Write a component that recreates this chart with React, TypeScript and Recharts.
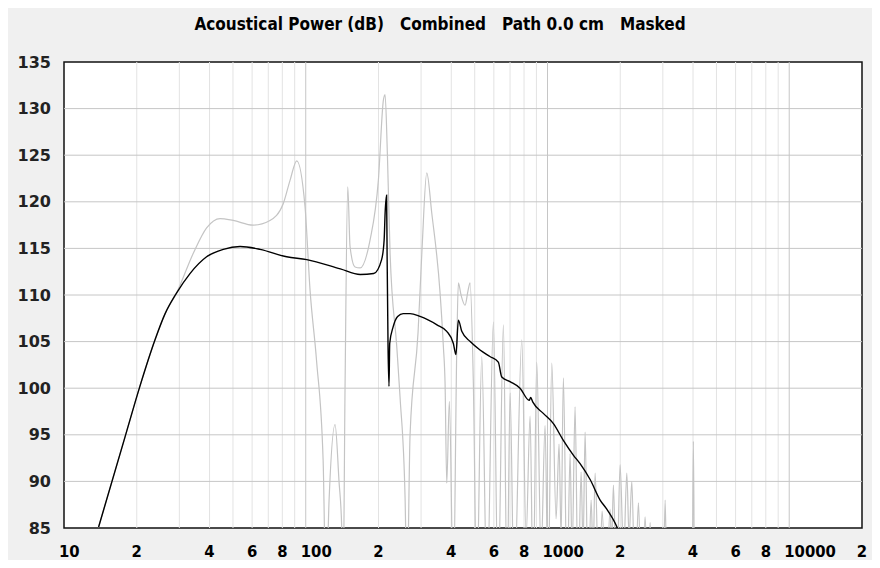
import React from "react";
import { LineChart, Line, XAxis, YAxis, ReferenceLine, ReferenceArea } from "recharts";

const TITLE = "Acoustical Power (dB)   Combined   Path 0.0 cm   Masked";

const FREQ_TICKS = [10, 20, 40, 60, 80, 100, 200, 400, 600, 800, 1000, 2000, 4000, 6000, 8000, 10000, 20000];
const FREQ_TICK_LABELS = ["10", "2", "4", "6", "8", "100", "2", "4", "6", "8", "1000", "2", "4", "6", "8", "10000", "2"];
const DB_TICKS = [85, 90, 95, 100, 105, 110, 115, 120, 125, 130, 135];
const DB_GRID = [90, 95, 100, 105, 110, 115, 120, 125, 130];
const MINOR_GRID = [
  20, 30, 40, 50, 60, 70, 80, 90,
  200, 300, 400, 500, 600, 700, 800, 900,
  2000, 3000, 4000, 5000, 6000, 7000, 8000, 9000,
];
const DECADE_GRID = [100, 1000, 10000];

// combined response (black)
const COMBINED_F = [
  13.9, 17.9, 20.6, 23.8, 26.2, 29.2, 33.2, 38.9, 45.6, 53.5, 64.7, 83.4, 101, 139, 168, 191,
  206, 211, 213, 216, 217, 219, 221, 222.5, 230, 240, 253, 270, 297, 349, 383, 408, 418, 428,
  442, 479, 526, 578, 626, 647, 700, 770, 840, 852, 870, 961, 1058, 1163, 1281, 1364, 1501,
  1651, 1750, 1938, 2000,
];
const COMBINED_DB = [
  85.1, 94.8, 100.2, 105.2, 108.0, 110.2, 112.3, 114.1, 114.9, 115.2, 114.9, 114.1, 113.8, 112.8, 112.2, 112.3,
  113.8, 115.9, 118.8, 120.7, 114.5, 104.5, 100.2, 104.8, 106.6, 107.7, 108.0, 108.0, 107.7, 106.8, 106.1, 104.8, 103.6, 107.3,
  106.1, 105.0, 104.1, 103.4, 102.8, 101.2, 100.7, 100.0, 98.7, 99.0, 98.5, 97.3, 96.2, 94.4, 92.8, 91.9, 90.2,
  88.0, 87.1, 85.1, 84.2,
];

// masked response (grey)
const MASKED_F = [
  13.9, 17.9, 20.6, 23.8, 26.2, 29.2, 34.3, 38.9, 44.2, 50.1, 60.6, 71.1, 80.7, 86.1, 91.8, 99.3,
  104.2, 110.8, 118.0, 121.3, 124.9, 132.2, 137.3, 140.9, 142.7, 145.4, 149.2, 152.5, 159.9, 167.8,
  184.5, 199.7, 209.5, 212.9, 217.6, 223.3, 237.9, 245.6, 257.6, 262.5, 270.1, 291.5, 302.8, 316.7,
  332.1, 359.5, 370.9, 377.0, 383.1, 392.7, 408.0, 421.4, 427.9, 439.0, 456.1, 469.4, 478.4, 493.6,
  509.8, 534.7, 562.3, 597.3, 624.6, 657.1, 680.7, 700.4, 727.6, 782.9, 815.6, 847.3, 871.8, 903.0,
  940.8, 977.4, 1005.8, 1041.8, 1085.4, 1116.8, 1138.3, 1163.5, 1205.2, 1240.2, 1264.1, 1300.7,
  1338.4, 1377.2, 1403.8, 1430.9, 1472.4, 1515.1, 1544.3, 1573.8, 1635.1, 1682.5, 1748.0, 1815.5,
  1841.6, 1873.7, 1931.5, 1997.0, 2064.8, 2128.6, 2175.7, 2232.5, 2303.5, 2377.3, 2451.0, 2534.2,
  2607.7, 2658, 2709, 3008, 3067, 3125, 3965, 4013, 4060, 20000,
];
const MASKED_DB = [
  85.1, 94.8, 100.2, 105.2, 108.0, 110.2, 114.5, 117.2, 118.2, 118.0, 117.5, 118.0, 119.8, 122.3, 124.4, 119.5,
  110.5, 103.0, 92.3, 78, 88, 96.1, 90, 85, 78, 100, 121.6, 115.2, 113.0, 112.9,
  115.9, 122.3, 130.9, 131.5, 125.2, 114.5, 104.5, 99.0, 88.2, 78, 95, 106, 115, 123.1,
  118.8, 110.2, 104.5, 100.5, 89.8, 98.6, 78, 104.1, 111.3, 110.0, 108.9, 110.5, 111.3, 100.5,
  78, 103.4, 78, 107.1, 78, 106.8, 78, 99.5, 78, 105.2, 84, 97, 78, 102.8,
  82, 96, 78, 102.7, 86, 94, 84, 101.1, 78, 93, 82, 98.0,
  78, 91, 83, 95.3, 78, 88, 82, 90.9, 78, 86.8, 78, 87,
  83, 89.6, 78, 91.8, 82, 90.9, 84, 90.0, 78, 87.7, 78, 86.2,
  78, 85.6, 78, 78, 88.0, 78, 78, 94.3, 78, 78,
];

const combined = COMBINED_F.map((f, i) => ({ f, db: COMBINED_DB[i] }));
const masked = MASKED_F.map((f, i) => ({ f, db: MASKED_DB[i] }));

const LABEL_FONT = "'DejaVu Sans Condensed', 'DejaVu Sans', sans-serif";

function FreqTick(props: any) {
  const { x, y, payload } = props;
  const label = FREQ_TICK_LABELS[FREQ_TICKS.indexOf(payload.value)] ?? "";
  const multi = label.length > 1;
  return (
    <text
      x={multi ? x - 5 : x}
      y={y + 23}
      textAnchor={multi ? "start" : "middle"}
      dominantBaseline="central"
      fontFamily={LABEL_FONT}
      fontWeight="bold"
      fontSize={16.5}
      fill="#000"
    >
      {label}
    </text>
  );
}

function DbTick(props: any) {
  const { x, y, payload } = props;
  return (
    <text
      x={x - 13}
      y={y}
      textAnchor="end"
      dominantBaseline="central"
      fontFamily="'DejaVu Sans', sans-serif"
      fontWeight="bold"
      fontSize={16}
      fill="#222"
    >
      {payload.value}
    </text>
  );
}

export default function App() {
  return (
    <div
      style={{
        position: "relative",
        margin: -8,
        width: 880,
        height: 568,
        background: "#f0f0f0",
        overflow: "hidden",
      }}
    >
      <div
        style={{
          position: "absolute",
          top: 14,
          left: 0,
          width: 880,
          textAlign: "center",
          whiteSpace: "pre",
          fontFamily: LABEL_FONT,
          fontWeight: "bold",
          fontSize: 17,
          color: "#000",
        }}
      >
        {TITLE}
      </div>
      <LineChart width={880} height={568} margin={{ top: 62, right: 18, bottom: 0, left: 0 }}>
        <XAxis
          dataKey="f"
          type="number"
          scale="log"
          domain={[10, 20000]}
          allowDataOverflow
          ticks={FREQ_TICKS}
          interval={0}
          axisLine={false}
          tickLine={false}
          tickSize={0}
          tickMargin={0}
          height={40}
          tick={<FreqTick />}
        />
        <YAxis
          type="number"
          domain={[85, 135]}
          allowDataOverflow
          ticks={DB_TICKS}
          interval={0}
          axisLine={false}
          tickLine={false}
          tickSize={0}
          tickMargin={0}
          width={64}
          tick={<DbTick />}
        />
        <ReferenceArea x1={10} x2={20000} y1={85} y2={135} fill="#ffffff" fillOpacity={1} stroke="none" />
        {MINOR_GRID.map((v) => (
          <ReferenceLine key={"m" + v} x={v} stroke="#e3e3e3" strokeWidth={1} />
        ))}
        {DECADE_GRID.map((v) => (
          <ReferenceLine key={"d" + v} x={v} stroke="#c6c6c6" strokeWidth={1} />
        ))}
        {DB_GRID.map((v) => (
          <ReferenceLine key={"h" + v} y={v} stroke="#c6c6c6" strokeWidth={1} />
        ))}
        <Line
          data={masked}
          dataKey="db"
          type="monotone"
          stroke="#c4c4c4"
          strokeWidth={1.2}
          dot={false}
          activeDot={false}
          isAnimationActive={false}
        />
        <Line
          data={combined}
          dataKey="db"
          type="monotone"
          stroke="#000000"
          strokeWidth={1.4}
          dot={false}
          activeDot={false}
          isAnimationActive={false}
        />
        <ReferenceArea x1={10} x2={20000} y1={85} y2={135} fill="none" stroke="#111" strokeWidth={1.5} />
      </LineChart>
    </div>
  );
}
